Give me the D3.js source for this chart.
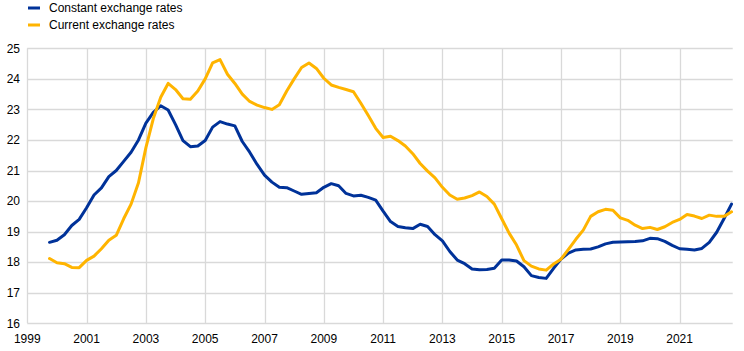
<!DOCTYPE html>
<html>
<head>
<meta charset="utf-8">
<script src="https://cdn.jsdelivr.net/npm/d3@7"></script>
<style>
  body { margin: 0; background: #fff; }
  svg { display: block; font-family: "Liberation Sans", Arial, sans-serif; }
</style>
</head>
<body>
<div id="chart"></div>
<script>
// quarterly series, first point = 1999 Q4 (plotted at 1999.75)
const startYear = 1999.75;
const seriesNames = ["Constant exchange rates", "Current exchange rates"];
const seriesColors = ["#003299", "#ffb400"];

const constantRates = [
  18.65, 18.72, 18.90, 19.20, 19.40, 19.78, 20.20, 20.43, 20.80, 21.00,
  21.30, 21.60, 22.00, 22.55, 22.90, 23.12, 22.98, 22.50, 21.98, 21.78,
  21.80, 21.98, 22.42, 22.60, 22.52, 22.46, 21.95, 21.60, 21.20, 20.85,
  20.62, 20.45, 20.44, 20.33, 20.22, 20.25, 20.27, 20.45, 20.57, 20.50,
  20.25, 20.17, 20.19, 20.12, 20.03, 19.67, 19.33, 19.17, 19.13, 19.10,
  19.24, 19.17, 18.90, 18.70, 18.35, 18.07, 17.95, 17.78, 17.75, 17.76,
  17.80, 18.07, 18.07, 18.04, 17.85, 17.56, 17.50, 17.47, 17.80, 18.10,
  18.30, 18.40, 18.42, 18.43, 18.50, 18.60, 18.65, 18.66, 18.67, 18.68,
  18.70, 18.78, 18.77, 18.68, 18.55, 18.44, 18.42, 18.40, 18.45, 18.65,
  18.98, 19.43, 19.90
];

const currentRates = [
  18.12, 17.98, 17.95, 17.83, 17.82, 18.06, 18.20, 18.44, 18.72, 18.88,
  19.42, 19.90, 20.60, 21.75, 22.70, 23.40, 23.85, 23.65, 23.35, 23.33,
  23.60, 24.00, 24.52, 24.63, 24.15, 23.85, 23.50, 23.26, 23.14, 23.06,
  23.00, 23.15, 23.60, 24.00, 24.37, 24.52, 24.34, 24.02, 23.80, 23.72,
  23.65, 23.58, 23.20, 22.80, 22.38, 22.08, 22.12, 21.98, 21.80, 21.55,
  21.23, 20.98, 20.76, 20.45, 20.20, 20.06, 20.10, 20.18, 20.30, 20.15,
  19.90, 19.42, 18.95, 18.56, 18.05, 17.87, 17.78, 17.74, 17.94, 18.10,
  18.42, 18.75, 19.05, 19.50, 19.65, 19.73, 19.70, 19.45, 19.37, 19.21,
  19.10, 19.14, 19.07, 19.16, 19.30, 19.40, 19.56, 19.51, 19.43, 19.54,
  19.50, 19.50, 19.65
];

const yTicks = [16, 17, 18, 19, 20, 21, 22, 23, 24, 25];
const xTicks = [1999, 2001, 2003, 2005, 2007, 2009, 2011, 2013, 2015, 2017, 2019, 2021];

const width = 744, height = 351;
const margin = {top: 48.3, right: 11.3, bottom: 27.7, left: 27.3};

const svg = d3.select("#chart").append("svg")
  .attr("width", width)
  .attr("height", height);

const x = d3.scaleLinear()
  .domain([1999, 2022.79])
  .range([margin.left, width - margin.right]);

const y = d3.scaleLinear()
  .domain([16, 25])
  .range([height - margin.bottom, margin.top]);

// grid
svg.append("g")
  .selectAll("line")
  .data(yTicks)
  .join("line")
  .attr("x1", margin.left)
  .attr("x2", width - margin.right)
  .attr("y1", d => Math.round(y(d)) + 0.5)
  .attr("y2", d => Math.round(y(d)) + 0.5)
  .attr("stroke", "#d9d9d9")
  .attr("stroke-width", 1.3);

svg.append("g")
  .selectAll("line")
  .data(xTicks)
  .join("line")
  .attr("x1", d => Math.round(x(d)) + 0.5)
  .attr("x2", d => Math.round(x(d)) + 0.5)
  .attr("y1", y(25))
  .attr("y2", y(16))
  .attr("stroke", "#d9d9d9")
  .attr("stroke-width", 1.3);

// tick labels
svg.append("g")
  .selectAll("text")
  .data(yTicks)
  .join("text")
  .attr("x", 20)
  .attr("y", d => y(d))
  .attr("dy", "0.35em")
  .attr("text-anchor", "end")
  .attr("font-size", 12)
  .attr("fill", "#000")
  .text(d => d);

svg.append("g")
  .selectAll("text")
  .data(xTicks)
  .join("text")
  .attr("x", d => x(d))
  .attr("y", 343)
  .attr("text-anchor", "middle")
  .attr("font-size", 12)
  .attr("fill", "#000")
  .text(d => d);

// lines
const line = d3.line()
  .x((d, i) => x(startYear + i * 0.25))
  .y(d => y(d));

[constantRates, currentRates].forEach((values, k) => {
  svg.append("path")
    .datum(values)
    .attr("d", line)
    .attr("fill", "none")
    .attr("stroke", seriesColors[k])
    .attr("stroke-width", 3)
    .attr("stroke-linejoin", "round")
    .attr("stroke-linecap", "round");
});

// legend
const legend = svg.append("g");
seriesNames.forEach((name, k) => {
  const ly = 8 + k * 17;
  legend.append("rect")
    .attr("x", 28)
    .attr("y", ly - 1.5)
    .attr("width", 12)
    .attr("height", 3)
    .attr("fill", seriesColors[k]);
  legend.append("text")
    .attr("x", 49)
    .attr("y", ly)
    .attr("dy", "0.35em")
    .attr("font-size", 12)
    .attr("fill", "#000")
    .text(name);
});
</script>
</body>
</html>
